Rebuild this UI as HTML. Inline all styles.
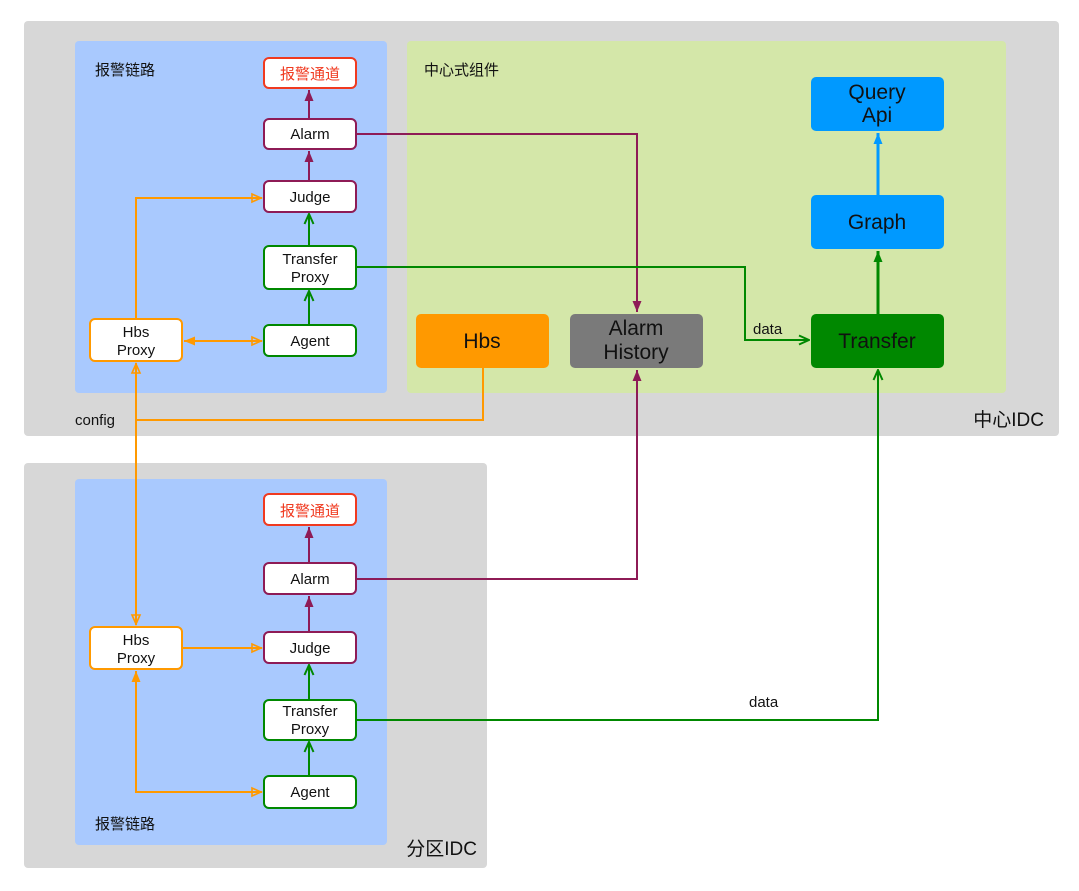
<!DOCTYPE html>
<html><head><meta charset="utf-8"><style>
html,body{margin:0;padding:0;background:#fff;}
svg{display:block;}
text{font-family:"Liberation Sans","Noto Sans CJK SC",sans-serif;}
</style></head><body>
<svg width="1079" height="891" viewBox="0 0 1079 891" xmlns="http://www.w3.org/2000/svg">
<defs>
<marker id="pf" markerUnits="userSpaceOnUse" markerWidth="12" markerHeight="12" refX="11" refY="6" orient="auto"><path d="M0,1.5 L11,6 L0,10.5 Z" fill="#8e1b56"/></marker>
<marker id="of" markerUnits="userSpaceOnUse" markerWidth="12" markerHeight="12" refX="11" refY="6" orient="auto"><path d="M0,1.5 L11,6 L0,10.5 Z" fill="#ff9900"/></marker>
<marker id="oo" markerUnits="userSpaceOnUse" markerWidth="12" markerHeight="12" refX="11" refY="6" orient="auto"><path d="M1,2 L10,6 L1,10 Z" fill="none" stroke="#ff9900" stroke-width="1.6"/></marker>
<marker id="gc" markerUnits="userSpaceOnUse" markerWidth="12" markerHeight="12" refX="11" refY="6" orient="auto"><path d="M1,1.5 L11,6 L1,10.5" fill="none" stroke="#008800" stroke-width="2"/></marker>
<marker id="gf" markerUnits="userSpaceOnUse" markerWidth="12" markerHeight="12" refX="11" refY="6" orient="auto"><path d="M0,1.5 L11,6 L0,10.5 Z" fill="#008800"/></marker>
<marker id="bf" markerUnits="userSpaceOnUse" markerWidth="12" markerHeight="12" refX="11" refY="6" orient="auto"><path d="M0,1.5 L11,6 L0,10.5 Z" fill="#0099ff"/></marker>
</defs>
<!-- containers -->
<rect x="24" y="21" width="1035" height="415" rx="4" fill="#d7d7d7"/>
<rect x="24" y="463" width="463" height="405" rx="4" fill="#d7d7d7"/>
<rect x="75" y="41" width="312" height="352" rx="4" fill="#a9c9fe"/>
<rect x="407" y="41" width="599" height="352" rx="4" fill="#d4e7a9"/>
<rect x="75" y="479" width="312" height="366" rx="4" fill="#a9c9fe"/>
<text x="95" y="75" font-size="15" fill="#111">报警链路</text>
<text x="424" y="75" font-size="15" fill="#111">中心式组件</text>
<text x="95" y="829" font-size="15" fill="#111">报警链路</text>
<text x="1044" y="426" font-size="19" fill="#111" text-anchor="end">中心IDC</text>
<text x="477" y="855" font-size="19" fill="#111" text-anchor="end">分区IDC</text>
<text x="75" y="425" font-size="15" fill="#111">config</text>
<text x="753" y="334" font-size="15" fill="#111">data</text>
<text x="749" y="707" font-size="15" fill="#111">data</text>

<!-- connectors -->
<g fill="none" stroke-width="2">
<!-- top chain -->
<path d="M309,119 V90" stroke="#8e1b56" marker-end="url(#pf)"/>
<path d="M309,181 V151" stroke="#8e1b56" marker-end="url(#pf)"/>
<path d="M309,246 V214" stroke="#008800" marker-end="url(#gc)"/>
<path d="M309,325 V291" stroke="#008800" marker-end="url(#gc)"/>
<path d="M356,134 H637 V312" stroke="#8e1b56" marker-end="url(#pf)"/>
<path d="M356,267 H745 V340 H809" stroke="#008800" marker-end="url(#gc)"/>
<path d="M136,319 V198 H262" stroke="#ff9900" marker-end="url(#oo)"/>
<path d="M230,341 H262" stroke="#ff9900" marker-end="url(#oo)"/>
<path d="M230,341 H184" stroke="#ff9900" marker-end="url(#of)"/>
<path d="M483,368 V420 H136" stroke="#ff9900"/>
<path d="M136,500 V363" stroke="#ff9900" marker-end="url(#oo)"/>
<path d="M136,500 V625" stroke="#ff9900" marker-end="url(#oo)"/>
<path d="M878,314 V251" stroke="#008800" stroke-width="3" marker-end="url(#gf)"/>
<path d="M878,195 V133" stroke="#0099ff" stroke-width="3" marker-end="url(#bf)"/>
<!-- bottom chain -->
<path d="M309,563 V527" stroke="#8e1b56" marker-end="url(#pf)"/>
<path d="M309,632 V596" stroke="#8e1b56" marker-end="url(#pf)"/>
<path d="M309,700 V665" stroke="#008800" marker-end="url(#gc)"/>
<path d="M309,776 V742" stroke="#008800" marker-end="url(#gc)"/>
<path d="M356,579 H637 V370" stroke="#8e1b56" marker-end="url(#pf)"/>
<path d="M356,720 H878 V370" stroke="#008800" marker-end="url(#gc)"/>
<path d="M182,648 H262" stroke="#ff9900" marker-end="url(#oo)"/>
<path d="M136,720 V792 H262" stroke="#ff9900" marker-end="url(#oo)"/>
<path d="M136,720 V671" stroke="#ff9900" marker-end="url(#of)"/>
</g>

<!-- small nodes -->
<g stroke-width="2" fill="#fff">
<rect x="264" y="58" width="92" height="30" rx="5" stroke="#f03a20"/>
<rect x="264" y="119" width="92" height="30" rx="5" stroke="#8e1b56"/>
<rect x="264" y="181" width="92" height="31" rx="5" stroke="#8e1b56"/>
<rect x="264" y="246" width="92" height="43" rx="5" stroke="#008800"/>
<rect x="264" y="325" width="92" height="31" rx="5" stroke="#008800"/>
<rect x="90" y="319" width="92" height="42" rx="5" stroke="#ff9900"/>
<rect x="264" y="494" width="92" height="31" rx="5" stroke="#f03a20"/>
<rect x="264" y="563" width="92" height="31" rx="5" stroke="#8e1b56"/>
<rect x="264" y="632" width="92" height="31" rx="5" stroke="#8e1b56"/>
<rect x="264" y="700" width="92" height="40" rx="5" stroke="#008800"/>
<rect x="264" y="776" width="92" height="32" rx="5" stroke="#008800"/>
<rect x="90" y="627" width="92" height="42" rx="5" stroke="#ff9900"/>
</g>
<g font-size="15" text-anchor="middle" fill="#111">
<text x="310" y="79" fill="#f03a20">报警通道</text>
<text x="310" y="139">Alarm</text>
<text x="310" y="202">Judge</text>
<text x="310" y="264">Transfer</text>
<text x="310" y="282">Proxy</text>
<text x="310" y="346">Agent</text>
<text x="136" y="337">Hbs</text>
<text x="136" y="355">Proxy</text>
<text x="310" y="516" fill="#f03a20">报警通道</text>
<text x="310" y="584">Alarm</text>
<text x="310" y="653">Judge</text>
<text x="310" y="716">Transfer</text>
<text x="310" y="734">Proxy</text>
<text x="310" y="797">Agent</text>
<text x="136" y="645">Hbs</text>
<text x="136" y="663">Proxy</text>
</g>

<!-- big nodes -->
<rect x="416" y="314" width="133" height="54" rx="5" fill="#ff9900"/>
<rect x="570" y="314" width="133" height="54" rx="5" fill="#7a7a7a"/>
<rect x="811" y="314" width="133" height="54" rx="5" fill="#008800"/>
<rect x="811" y="195" width="133" height="54" rx="5" fill="#0099ff"/>
<rect x="811" y="77" width="133" height="54" rx="5" fill="#0099ff"/>
<g font-size="21" text-anchor="middle" fill="#111">
<text x="482" y="348">Hbs</text>
<text x="636" y="335">Alarm</text>
<text x="636" y="359">History</text>
<text x="877" y="348">Transfer</text>
<text x="877" y="229">Graph</text>
<text x="877" y="99">Query</text>
<text x="877" y="122">Api</text>
</g>
</svg>
</body></html>
